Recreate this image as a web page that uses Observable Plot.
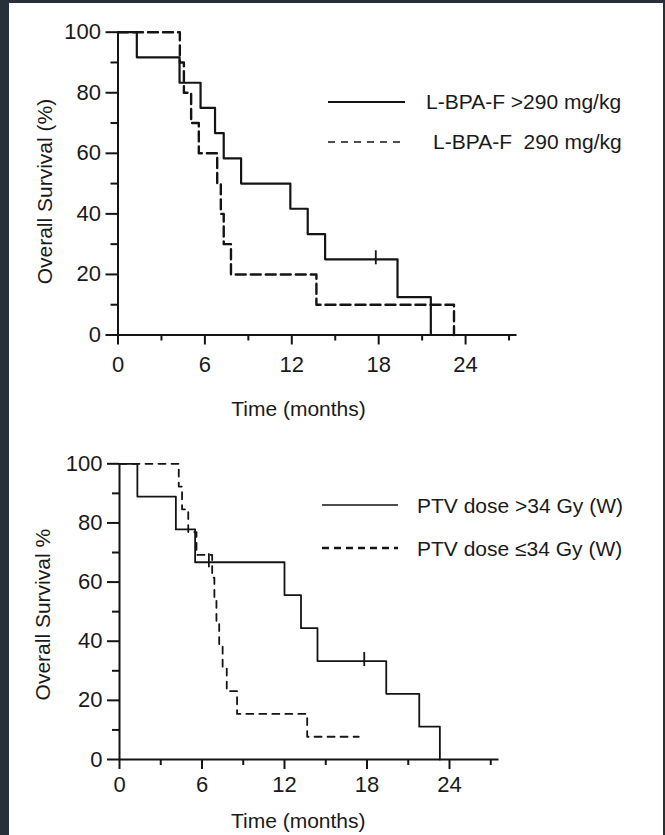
<!DOCTYPE html>
<html><head><meta charset="utf-8">
<script src="https://cdn.jsdelivr.net/npm/d3@7"></script>
<script src="https://cdn.jsdelivr.net/npm/@observablehq/plot@0.6"></script>
<style>
html,body{margin:0;padding:0;background:#262f3a;width:665px;height:835px;overflow:hidden;}
#panel{position:absolute;left:9px;top:3px;width:654px;height:832px;background:#fff;}
.chart{position:absolute;left:9px;}
.legtext{position:absolute;font-family:"Liberation Sans",Arial,sans-serif;font-size:21px;line-height:21px;color:#1a1a1a;white-space:pre;}
.legline{position:absolute;overflow:visible;}
</style></head><body><div id="panel"></div>
<script>
// ---- data ----
const xTitle = "Time (months)";
const topYTitle = "Overall Survival (%)";
const botYTitle = "Overall Survival %";
const xMajor = [0, 6, 12, 18, 24];
const xMinor = [3, 9, 15, 21, 27];
const yMajor = [0, 20, 40, 60, 80, 100];
const yMinor = [10, 30, 50, 70, 90];

const topSeries = ["L-BPA-F >290 mg/kg", "L-BPA-F  290 mg/kg"];
const topHighTime = [0, 1.3, 4.25, 5.7, 6.7, 7.3, 8.5, 11.9, 13.1, 14.3, 19.3, 21.6];
const topHighSurv = [100, 91.7, 83.3, 75, 66.7, 58.3, 50, 41.7, 33.3, 25, 12.5, 0];
const topLowTime = [0, 4.27, 4.55, 5.05, 5.58, 6.85, 7.1, 7.3, 7.8, 13.7, 23.2];
const topLowSurv = [100, 90, 80, 70, 60, 50, 40, 30, 20, 10, 0];
const topCensorTime = [17.8];
const topCensorSurv = [25];

const botSeries = ["PTV dose >34 Gy (W)", "PTV dose \u226434 Gy (W)"];
const botHighTime = [0, 1.3, 4.1, 5.5, 12.0, 13.2, 14.4, 19.4, 21.8, 23.3];
const botHighSurv = [100, 88.9, 77.8, 66.7, 55.6, 44.4, 33.3, 22.2, 11.1, 0];
const botLowTime = [0, 4.31, 4.55, 5.0, 5.6, 6.74, 6.9, 7.05, 7.25, 7.5, 7.8, 8.55, 13.65, 17.4];
const botLowSurv = [100, 92.3, 84.6, 76.9, 69.2, 61.5, 53.8, 46.2, 38.5, 30.8, 23.1, 15.4, 7.7, 7.7];
const botCensorTime = [6.5, 17.8];
const botCensorSurv = [66.7, 33.3];

// ---- helpers ----
const zip = (ts, ss) => ts.map((t, i) => ({t, s: ss[i]}));
const ink = "#141414";
const censorSymbol = {draw(ctx) { ctx.moveTo(0, -9); ctx.lineTo(0, 5); }};

function chart(c) {
  return Plot.plot({
    width: 654, height: c.height,
    marginLeft: c.ml, marginRight: c.mr, marginTop: c.mt, marginBottom: c.mb,
    x: {domain: [0, c.xMax]},
    y: {domain: [0, 100]},
    style: {fontFamily: "'Liberation Sans', Arial, sans-serif", fontSize: "22px", color: "#1a1a1a", background: "transparent", overflow: "visible"},
    marks: [
      Plot.axisY({ticks: yMajor, tickSize: 12, tickPadding: 5, strokeWidth: 2, label: null, stroke: ink}),
      Plot.axisY({ticks: yMinor, tickSize: 7, tickFormat: () => "", strokeWidth: 2, label: null, stroke: ink}),
      Plot.axisX({ticks: xMajor, tickSize: 10, tickPadding: c.xpad, strokeWidth: 2, label: null, stroke: ink}),
      Plot.axisX({ticks: xMinor, tickSize: 6, tickFormat: () => "", strokeWidth: 2, label: null, stroke: ink}),
      Plot.ruleX([0], {y1: 0, y2: 100, stroke: ink, strokeWidth: 2}),
      Plot.ruleY([0], {x1: 0, x2: c.xMax, stroke: ink, strokeWidth: 2}),
      Plot.line(zip(c.lowT, c.lowS), {x: "t", y: "s", curve: "step-after", stroke: ink, strokeWidth: c.lowW, strokeDasharray: c.lowDash}),
      Plot.line(zip(c.highT, c.highS), {x: "t", y: "s", curve: "step-after", stroke: ink, strokeWidth: c.highW}),
      Plot.dot(zip(c.cT, c.cS), {x: "t", y: "s", symbol: censorSymbol, fill: "none", stroke: ink, strokeWidth: 1.8}),
      Plot.text([c.yTitle], {frameAnchor: "left", textAnchor: "middle", rotate: -90, dx: c.ydx, dy: c.ydy, fill: "#1a1a1a", fontSize: 21}),
      Plot.text([xTitle], {frameAnchor: "bottom", textAnchor: "middle", dx: c.xdx, dy: c.xdy, fill: "#1a1a1a", fontSize: 21})
    ]
  });
}

const top1 = chart({height: 430, ml: 108.5, mr: 146.5, mt: 28.7, mb: 98.5, xMax: 27.55, xpad: 11,
  highT: topHighTime, highS: topHighSurv, lowT: topLowTime, lowS: topLowSurv, cT: topCensorTime, cS: topCensorSurv,
  highW: 2.2, lowW: 2.4, lowDash: "10,5", yTitle: topYTitle, ydx: -73, ydy: 8, xdx: -19, xdy: 81});
top1.classList.add("chart"); top1.style.top = "3px"; top1.style.position = "absolute";
document.body.appendChild(top1);

const bot1 = chart({height: 400, ml: 110, mr: 164.5, mt: 30.3, mb: 74, xMax: 27.6, xpad: 7,
  highT: botHighTime, highS: botHighSurv, lowT: botLowTime, lowS: botLowSurv, cT: botCensorTime, cS: botCensorSurv,
  highW: 1.8, lowW: 1.8, lowDash: "7,6", yTitle: botYTitle, ydx: -76, ydy: 3, xdx: -11, xdy: 68});
bot1.classList.add("chart"); bot1.style.top = "433px"; bot1.style.position = "absolute";
document.body.appendChild(bot1);

// ---- legends (HTML overlay) ----
function legend(x1, x2, y, textX, label, width, dash) {
  const ns = "http://www.w3.org/2000/svg";
  const svg = document.createElementNS(ns, "svg");
  svg.setAttribute("class", "legline");
  svg.setAttribute("width", x2 - x1); svg.setAttribute("height", 10);
  svg.style.left = x1 + "px"; svg.style.top = (y - 5) + "px";
  const ln = document.createElementNS(ns, "line");
  ln.setAttribute("x1", 0); ln.setAttribute("x2", x2 - x1);
  ln.setAttribute("y1", 5); ln.setAttribute("y2", 5);
  ln.setAttribute("stroke", ink); ln.setAttribute("stroke-width", width);
  if (dash) ln.setAttribute("stroke-dasharray", dash);
  svg.appendChild(ln);
  document.body.appendChild(svg);
  const d = document.createElement("div");
  d.className = "legtext"; d.textContent = label;
  d.style.left = textX + "px"; d.style.top = (y - 10.5) + "px";
  document.body.appendChild(d);
}
legend(328, 405, 101.7, 426, topSeries[0], 2, null);
legend(328, 405, 141.7, 433, topSeries[1], 1.5, "7,6");
legend(322, 398, 505, 417, botSeries[0], 1.6, null);
legend(322, 398, 548.3, 417, botSeries[1], 2.4, "7,5");
</script></body></html>
